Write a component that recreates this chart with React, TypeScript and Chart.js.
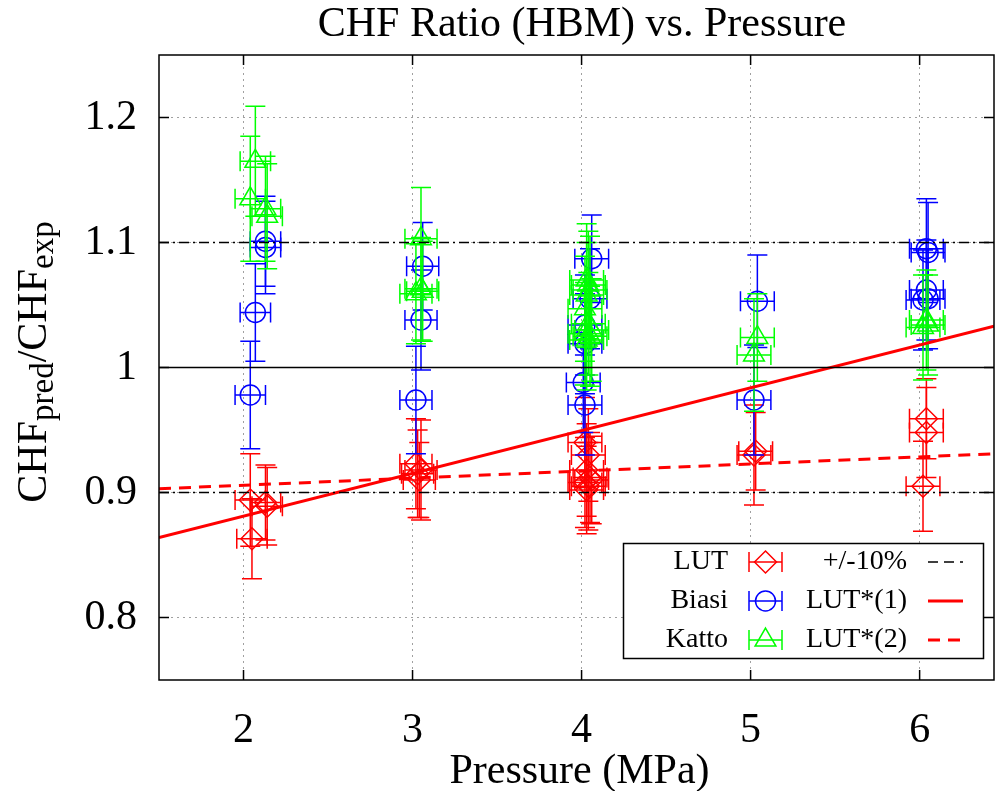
import React, { useEffect, useRef } from 'react';
import { Chart, registerables } from 'chart.js';

Chart.register(...registerables);

const SERIF = '"Liberation Serif", "Times New Roman", Times, serif';

// ---------- data ----------
const titleText = 'CHF Ratio (HBM) vs. Pressure';
const xTitleText = 'Pressure (MPa)';
const xTicks = [2, 3, 4, 5, 6];
const yTicks = [0.8, 0.9, 1.0, 1.1, 1.2];
const yTickLabels = ['0.8', '0.9', '1', '1.1', '1.2'];
const xRange = [1.5, 6.44];
const yRange = [0.75, 1.25];

// LUT (diamonds)
const lutP = [2.04, 2.13, 2.14, 2.05, 3.02, 3.05, 3.04, 3.03, 4.02, 4.04, 4.03, 4.05, 4.02, 4.04, 4.03, 4.06, 5.03, 5.02, 6.04, 6.04, 6.02];
const lutR = [0.894, 0.892, 0.889, 0.863, 0.923, 0.918, 0.910, 0.915, 0.940, 0.930, 0.918, 0.912, 0.908, 0.905, 0.902, 0.910, 0.933, 0.930, 0.959, 0.948, 0.905];
const lutPErr = [0.09, 0.09, 0.09, 0.09, 0.095, 0.095, 0.095, 0.095, 0.1, 0.1, 0.1, 0.1, 0.1, 0.1, 0.1, 0.1, 0.1, 0.1, 0.1, 0.1, 0.1];
const lutRErr = [0.037, 0.030, 0.031, 0.032, 0.036, 0.040, 0.030, 0.035, 0.036, 0.037, 0.037, 0.036, 0.036, 0.035, 0.035, 0.035, 0.031, 0.040, 0.032, 0.036, 0.036];

// Biasi (circles)
const biasiP = [2.04, 2.07, 2.13, 2.13, 3.02, 3.05, 3.06, 4.06, 4.05, 4.02, 4.02, 4.01, 4.02, 5.02, 5.04, 6.04, 6.05, 6.04, 6.02, 6.05];
const biasiR = [0.978, 1.044, 1.101, 1.096, 0.974, 1.038, 1.081, 1.087, 1.055, 1.034, 1.019, 0.988, 0.970, 0.974, 1.053, 1.095, 1.092, 1.062, 1.054, 1.055];
const biasiPErr = [0.09, 0.09, 0.09, 0.09, 0.095, 0.095, 0.095, 0.1, 0.1, 0.1, 0.1, 0.1, 0.1, 0.1, 0.1, 0.1, 0.1, 0.1, 0.1, 0.1];
const biasiRErr = [0.043, 0.039, 0.036, 0.037, 0.043, 0.040, 0.035, 0.035, 0.040, 0.040, 0.040, 0.040, 0.040, 0.044, 0.037, 0.040, 0.040, 0.040, 0.040, 0.040];

// Katto (triangles)
const kattoP = [2.07, 2.04, 2.13, 2.14, 3.05, 3.05, 3.02, 3.06, 4.03, 4.04, 4.05, 4.03, 4.02, 4.04, 4.02, 4.05, 4.03, 4.06, 5.04, 5.02, 6.04, 6.05, 6.02];
const kattoR = [1.165, 1.135, 1.127, 1.121, 1.103, 1.063, 1.059, 1.061, 1.070, 1.066, 1.062, 1.058, 1.047, 1.035, 1.027, 1.025, 1.022, 1.030, 1.024, 1.010, 1.038, 1.034, 1.032];
const kattoPErr = [0.09, 0.09, 0.09, 0.09, 0.095, 0.095, 0.095, 0.095, 0.1, 0.1, 0.1, 0.1, 0.1, 0.1, 0.1, 0.1, 0.1, 0.1, 0.1, 0.1, 0.1, 0.1, 0.1];
const kattoRErr = [0.044, 0.050, 0.042, 0.042, 0.041, 0.041, 0.040, 0.040, 0.045, 0.043, 0.043, 0.042, 0.042, 0.041, 0.041, 0.040, 0.040, 0.041, 0.035, 0.045, 0.040, 0.040, 0.042];

// fitted lines and reference lines (values at the ends of the x range)
const fitP = [1.5, 6.44];
const lutStar1 = [0.864, 1.033];
const lutStar2 = [0.903, 0.931];
const refOne = [1.0, 1.0];
const refPlus = [1.1, 1.1];
const refMinus = [0.9, 0.9];

const RED = '#ff0000';
const BLUE = '#0000ff';
const GREEN = '#00ff00';
const DASHDOT = [10, 4, 2, 4];

const toPts = (p: number[], r: number[]) => p.map((v, i) => ({ x: v, y: r[i] }));

function drawMarker(ctx: CanvasRenderingContext2D, style: string, x: number, y: number, r: number) {
  ctx.beginPath();
  if (style === 'rectRot') {
    ctx.moveTo(x, y - r); ctx.lineTo(x + r, y); ctx.lineTo(x, y + r); ctx.lineTo(x - r, y); ctx.closePath();
  } else if (style === 'triangle') {
    ctx.moveTo(x, y - r); ctx.lineTo(x + 0.866 * r, y + 0.5 * r); ctx.lineTo(x - 0.866 * r, y + 0.5 * r); ctx.closePath();
  } else {
    ctx.arc(x, y, r, 0, Math.PI * 2);
  }
  ctx.stroke();
}

const CAP = 10;

const errorBarPlugin = {
  id: 'errorBars',
  afterDatasetDraw(chart: any, args: any) {
    const ds = chart.data.datasets[args.index];
    if (!ds.errX) return;
    const { ctx, chartArea } = chart;
    const xs = chart.scales.x, ys = chart.scales.y;
    ctx.save();
    ctx.beginPath();
    ctx.rect(chartArea.left, chartArea.top, chartArea.right - chartArea.left, chartArea.bottom - chartArea.top);
    ctx.clip();
    ctx.strokeStyle = ds.borderColor;
    ctx.lineWidth = 1.5;
    ds.data.forEach((pt: any, i: number) => {
      const px = xs.getPixelForValue(pt.x), py = ys.getPixelForValue(pt.y);
      const x0 = xs.getPixelForValue(pt.x - ds.errX[i]), x1 = xs.getPixelForValue(pt.x + ds.errX[i]);
      const y0 = ys.getPixelForValue(pt.y - ds.errY[i]), y1 = ys.getPixelForValue(pt.y + ds.errY[i]);
      ctx.beginPath();
      ctx.moveTo(px, y0); ctx.lineTo(px, y1);
      ctx.moveTo(px - CAP, y0); ctx.lineTo(px + CAP, y0);
      ctx.moveTo(px - CAP, y1); ctx.lineTo(px + CAP, y1);
      ctx.moveTo(x0, py); ctx.lineTo(x1, py);
      ctx.moveTo(x0, py - CAP); ctx.lineTo(x0, py + CAP);
      ctx.moveTo(x1, py - CAP); ctx.lineTo(x1, py + CAP);
      ctx.stroke();
    });
    ctx.restore();
  },
};

const framePlugin = {
  id: 'frame',
  afterDatasetsDraw(chart: any) {
    const { ctx, chartArea: a } = chart;
    const xs = chart.scales.x, ys = chart.scales.y;
    ctx.save();
    ctx.strokeStyle = '#000';
    ctx.lineWidth = 1.5;
    ctx.strokeRect(a.left, a.top, a.right - a.left, a.bottom - a.top);
    ctx.beginPath();
    const T = 10;
    xTicks.forEach((v) => {
      const p = xs.getPixelForValue(v);
      ctx.moveTo(p, a.bottom); ctx.lineTo(p, a.bottom - T);
      ctx.moveTo(p, a.top); ctx.lineTo(p, a.top + T);
    });
    yTicks.forEach((v) => {
      const p = ys.getPixelForValue(v);
      ctx.moveTo(a.left, p); ctx.lineTo(a.left + T, p);
      ctx.moveTo(a.right, p); ctx.lineTo(a.right - T, p);
    });
    ctx.stroke();
    ctx.restore();
  },
};

const legendRows = [
  { label: 'LUT', color: RED, style: 'rectRot', r: 11, line: '+/-10%', lcolor: '#000', ldash: [10, 6], lw: 1.5 },
  { label: 'Biasi', color: BLUE, style: 'circle', r: 10, line: 'LUT*(1)', lcolor: RED, ldash: [], lw: 3 },
  { label: 'Katto', color: GREEN, style: 'triangle', r: 12, line: 'LUT*(2)', lcolor: RED, ldash: [12, 8], lw: 3 },
];

const textPlugin = {
  id: 'texts',
  afterDraw(chart: any) {
    const ctx: CanvasRenderingContext2D = chart.ctx;
    const a = chart.chartArea;
    ctx.save();
    ctx.fillStyle = '#000';
    ctx.textBaseline = 'alphabetic';
    ctx.textAlign = 'center';
    ctx.font = `42px ${SERIF}`;
    ctx.fillText(titleText, 582, 36);
    ctx.fillText(xTitleText, (a.left + a.right) / 2 + 3, 783);

    // y-axis title with subscripts
    const parts: [string, boolean][] = [['CHF', false], ['pred', true], ['/CHF', false], ['exp', true]];
    const fontOf = (sub: boolean) => (sub ? `33px ${SERIF}` : `42px ${SERIF}`);
    let total = 0;
    parts.forEach(([t, s]) => { ctx.font = fontOf(s); total += ctx.measureText(t).width; });
    ctx.save();
    ctx.translate(46, 362 + total / 2);
    ctx.rotate(-Math.PI / 2);
    ctx.textAlign = 'left';
    let cx = 0;
    parts.forEach(([t, s]) => {
      ctx.font = fontOf(s);
      ctx.fillText(t, cx, s ? 7 : 0);
      cx += ctx.measureText(t).width;
    });
    ctx.restore();

    // legend
    const bx = 623.5, by = 543.5, bw = 360, bh = 115;
    ctx.fillStyle = '#fff';
    ctx.fillRect(bx, by, bw, bh);
    ctx.strokeStyle = '#000';
    ctx.lineWidth = 1.5;
    ctx.strokeRect(bx, by, bw, bh);
    const rowsY = [562, 601, 640];
    ctx.font = `28px ${SERIF}`;
    ctx.textBaseline = 'middle';
    ctx.textAlign = 'right';
    legendRows.forEach((row, i) => {
      const y = rowsY[i];
      ctx.fillStyle = '#000';
      ctx.fillText(row.label, 728, y);
      ctx.fillText(row.line, 907, y);
      // error bar sample
      ctx.strokeStyle = row.color;
      ctx.lineWidth = 1.5;
      ctx.setLineDash([]);
      ctx.beginPath();
      ctx.moveTo(749, y); ctx.lineTo(782, y);
      ctx.moveTo(749, y - CAP); ctx.lineTo(749, y + CAP);
      ctx.moveTo(782, y - CAP); ctx.lineTo(782, y + CAP);
      ctx.stroke();
      drawMarker(ctx, row.style, 765.5, y, row.r);
      // line sample
      ctx.strokeStyle = row.lcolor;
      ctx.lineWidth = row.lw;
      ctx.setLineDash(row.ldash);
      ctx.beginPath();
      ctx.moveTo(928, y); ctx.lineTo(963, y);
      ctx.stroke();
      ctx.setLineDash([]);
    });
    ctx.restore();
  },
};

export default function App() {
  const ref = useRef<HTMLCanvasElement>(null);

  useEffect(() => {
    const canvas = ref.current;
    if (!canvas) return;
    const scatterCommon = {
      type: 'scatter' as const,
      showLine: false,
      pointBackgroundColor: 'rgba(0,0,0,0)',
      pointBorderWidth: 1.5,
      pointHoverRadius: 0,
    };
    const lineCommon = {
      type: 'scatter' as const,
      showLine: true,
      pointRadius: 0,
      pointHoverRadius: 0,
      fill: false,
      order: 0,
    };
    const chart = new Chart(canvas, {
      type: 'scatter',
      data: {
        datasets: [
          { ...lineCommon, label: '+/-10% upper', data: toPts(fitP, refPlus), borderColor: '#000', borderWidth: 1.5, borderDash: DASHDOT },
          { ...lineCommon, label: '+/-10% lower', data: toPts(fitP, refMinus), borderColor: '#000', borderWidth: 1.5, borderDash: DASHDOT },
          { ...lineCommon, label: 'unity', data: toPts(fitP, refOne), borderColor: '#000', borderWidth: 1.5 },
          { ...lineCommon, label: 'LUT*(1)', data: toPts(fitP, lutStar1), borderColor: RED, borderWidth: 3 },
          { ...lineCommon, label: 'LUT*(2)', data: toPts(fitP, lutStar2), borderColor: RED, borderWidth: 3, borderDash: [12, 8] },
          { ...scatterCommon, label: 'Katto', data: toPts(kattoP, kattoR), errX: kattoPErr, errY: kattoRErr, borderColor: GREEN, pointBorderColor: GREEN, pointStyle: 'triangle', pointRadius: 12, order: 1 } as any,
          { ...scatterCommon, label: 'Biasi', data: toPts(biasiP, biasiR), errX: biasiPErr, errY: biasiRErr, borderColor: BLUE, pointBorderColor: BLUE, pointStyle: 'circle', pointRadius: 10, order: 2 } as any,
          { ...scatterCommon, label: 'LUT', data: toPts(lutP, lutR), errX: lutPErr, errY: lutRErr, borderColor: RED, pointBorderColor: RED, pointStyle: 'rectRot', pointRadius: 11, order: 3 } as any,
        ],
      },
      options: {
        responsive: false,
        animation: false,
        events: [],
        layout: { autoPadding: false, padding: { top: 55, right: 1, left: 0, bottom: 0 } },
        plugins: { legend: { display: false }, tooltip: { enabled: false }, title: { display: false } },
        scales: {
          x: {
            type: 'linear',
            min: xRange[0],
            max: xRange[1],
            afterBuildTicks: (s: any) => { s.ticks = xTicks.map((v) => ({ value: v })); },
            afterFit: (s: any) => { s.height = 111; s.paddingLeft = 0; s.paddingRight = 0; },
            ticks: {
              color: '#000',
              font: { family: SERIF, size: 42, lineHeight: 1.2 },
              padding: 26,
              maxRotation: 0,
              autoSkip: false,
              callback: (v: any) => String(v),
            },
            grid: { color: '#a0a0a0', lineWidth: 1, drawTicks: false },
            border: { display: false, dash: [2, 4] },
          },
          y: {
            type: 'linear',
            min: yRange[0],
            max: yRange[1],
            afterBuildTicks: (s: any) => { s.ticks = yTicks.map((v) => ({ value: v })); },
            afterFit: (s: any) => { s.width = 159; s.paddingTop = 0; s.paddingBottom = 0; },
            ticks: {
              color: '#000',
              font: { family: SERIF, size: 42, lineHeight: 1.2 },
              padding: 22,
              autoSkip: false,
              callback: (v: any) => { const i = yTicks.indexOf(v); return i >= 0 ? yTickLabels[i] : ''; },
            },
            grid: { color: '#a0a0a0', lineWidth: 1, drawTicks: false },
            border: { display: false, dash: [2, 4] },
          },
        },
      } as any,
      plugins: [errorBarPlugin, framePlugin, textPlugin],
    });
    return () => chart.destroy();
  }, []);

  return (
    <div style={{ position: 'fixed', left: 0, top: 0, width: 995, height: 791, background: '#fff' }}>
      <canvas ref={ref} width={995} height={791} style={{ display: 'block' }} />
    </div>
  );
}
